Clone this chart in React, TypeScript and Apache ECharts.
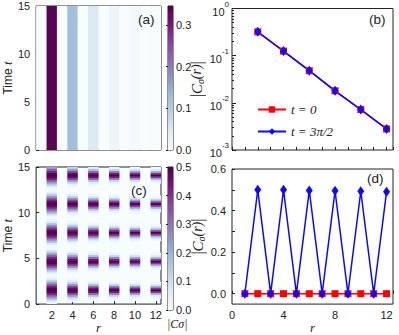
import React, { useEffect, useRef } from 'react';
import * as echarts from 'echarts';

// ---------- data ----------
const rAll = [1, 2, 3, 4, 5, 6, 7, 8, 9, 10, 11, 12];
const panelAValues = [0, 0.335, 0, 0.125, 0, 0.048, 0, 0.018, 0, 0.0072, 0, 0.0028];
const rEven = [2, 4, 6, 8, 10, 12];
const bT0 = [0.32, 0.125, 0.048, 0.018, 0.0072, 0.0028];
const bT3 = [0.32, 0.125, 0.048, 0.018, 0.0072, 0.0028];
const dT0 = [0, 0, 0, 0, 0, 0, 0, 0, 0, 0, 0, 0];
const dT3 = [0, 0.5, 0, 0.5, 0, 0.497, 0, 0.495, 0, 0.493, 0, 0.49];
const blobCentersT = [1.57, 4.71, 7.85, 11.0, 14.14];
const profileStep = 0.2;
// |C| read at offsets 0, 0.2, 0.4 ... from the centre of each blob, one row per even r
const blobProfiles = [
  [0.5, 0.48, 0.42, 0.34, 0.24, 0.15, 0.07, 0.02],
  [0.5, 0.46, 0.36, 0.24, 0.13, 0.05, 0.015, 0],
  [0.5, 0.44, 0.31, 0.17, 0.07, 0.02, 0, 0],
  [0.5, 0.42, 0.27, 0.12, 0.04, 0.01, 0, 0],
  [0.5, 0.4, 0.23, 0.09, 0.025, 0.005, 0, 0],
  [0.5, 0.38, 0.19, 0.065, 0.015, 0, 0, 0],
];
const heatXTicks = [2, 4, 6, 8, 10, 12];
const cbarATicks = [0, 0.1, 0.2, 0.3];
const cbarCTicks = [0, 0.1, 0.2, 0.3, 0.4, 0.5];
const logMinor = [0.002, 0.003, 0.004, 0.005, 0.006, 0.007, 0.008, 0.009, 0.02, 0.03, 0.04, 0.05, 0.06, 0.07, 0.08, 0.09, 0.2, 0.3, 0.4, 0.5, 0.6, 0.7, 0.8, 0.9];
const dXLabels = [0, 4, 8, 12];
const dYLabels = [0, 0.2, 0.4, 0.6];
const dYTicks = [0, 0.1, 0.2, 0.3, 0.4, 0.5, 0.6];
const cbarAMax = 0.345;
const cbarCMax = 0.5;
const BUPU = ['#f7fcfd', '#e0ecf4', '#bfd3e6', '#9ebcda', '#8c96c6', '#8c6bb1', '#88419d', '#810f7c', '#4d004b'];

const SANS = 'Liberation Sans, Arial, sans-serif';
const SERIF = 'Liberation Serif, Times New Roman, serif';
const INK = '#222';

export default function App() {
  const ref = useRef<HTMLDivElement>(null);
  useEffect(() => {
    document.body.style.margin = '0';
    const chart = echarts.init(ref.current!, undefined, { renderer: 'svg' });

    const aCells = rAll.map((r, i) => [r, 7.5, 15, panelAValues[i]]);
    const cCells: number[][] = [];
    rEven.forEach((r, j) => {
      const prof = blobProfiles[j];
      blobCentersT.forEach((c) => {
        for (let k = -(prof.length - 1); k <= prof.length - 1; k++) {
          const v = prof[Math.abs(k)];
          if (v > 0) cCells.push([r, c + k * profileStep, profileStep, v]);
        }
      });
    });

    const cellRender = (_p: any, api: any) => {
      const r = api.value(0), t = api.value(1), h = api.value(2);
      const p0 = api.coord([r - 0.5, t + h / 2]);
      const p1 = api.coord([r + 0.5, t - h / 2]);
      return {
        type: 'rect',
        shape: { x: p0[0], y: p0[1], width: p1[0] - p0[0], height: p1[1] - p0[1] + 0.6 },
        style: { fill: api.visual('color') },
      };
    };
    const cbarRender = (params: any) => {
      const cs = params.coordSys;
      return {
        type: 'rect',
        shape: { x: cs.x, y: cs.y, width: cs.width, height: cs.height },
        style: {
          fill: {
            type: 'linear', x: 0, y: 1, x2: 0, y2: 0,
            colorStops: BUPU.map((c, i) => ({ offset: i / (BUPU.length - 1), color: c })),
          },
        },
      };
    };

    const tick = (extra: any = {}) => ({ show: true, inside: true, length: 3, lineStyle: { color: INK, width: 1 }, ...extra });
    const lbl = (extra: any = {}) => ({ color: INK, fontSize: 11, fontFamily: SANS, ...extra });
    const gridBase = { show: true, borderColor: INK, borderWidth: 1, containLabel: false };
    const noSplit = { show: false };
    const timeName = {
      name: '{a|Time }{b|t}',
      nameLocation: 'middle',
      nameGap: 21,
      nameRotate: 90,
      nameTextStyle: {
        rich: {
          a: { fontFamily: SANS, fontSize: 12, color: INK },
          b: { fontFamily: SERIF, fontStyle: 'italic', fontSize: 13, color: INK },
        },
      },
    };
    const cName = {
      name: '{p||}{c|C}{s|σ}{q|(r)}{p||}',
      nameLocation: 'middle',
      nameGap: 22,
      nameRotate: 90,
      nameTextStyle: {
        rich: {
          p: { fontFamily: SERIF, fontSize: 16, color: INK, lineHeight: 18, verticalAlign: 'middle' },
          c: { fontFamily: SERIF, fontStyle: 'italic', fontSize: 15, color: INK, lineHeight: 18, verticalAlign: 'middle' },
          s: { fontFamily: SERIF, fontStyle: 'italic', fontSize: 10, color: INK, lineHeight: 12, verticalAlign: 'bottom' },
          q: { fontFamily: SERIF, fontStyle: 'italic', fontSize: 14, color: INK, lineHeight: 18, verticalAlign: 'middle' },
        },
      },
    };
    const rName = {
      name: 'r',
      nameLocation: 'middle',
      nameGap: 13,
      nameTextStyle: { fontFamily: SERIF, fontStyle: 'italic', fontSize: 13, color: INK },
    };

    const option: any = {
      animation: false,
      backgroundColor: '#fff',
      grid: [
        { ...gridBase, left: 33, top: 6, width: 128, height: 144, backgroundColor: '#f7fcfd' },
        { ...gridBase, left: 168, top: 6, width: 5, height: 144 },
        { ...gridBase, left: 232, top: 7, width: 161, height: 143 },
        { ...gridBase, left: 33, top: 167, width: 128, height: 143, backgroundColor: '#f7fcfd' },
        { ...gridBase, left: 168, top: 167, width: 5, height: 143 },
        { ...gridBase, left: 232, top: 169, width: 161, height: 142 },
      ],
      xAxis: [
        { gridIndex: 0, type: 'value', min: 0.5, max: 12.5, axisLine: { show: false }, axisTick: tick({ customValues: heatXTicks }), axisLabel: { show: false }, splitLine: noSplit },
        { gridIndex: 1, type: 'value', min: 0, max: 1, show: false },
        { gridIndex: 2, type: 'value', min: 0, max: 12.5, interval: 1, axisLine: { show: false }, axisTick: tick(), axisLabel: { show: false }, splitLine: noSplit },
        { gridIndex: 3, type: 'value', min: 0.5, max: 12.5, axisLine: { show: false }, axisTick: tick({ customValues: heatXTicks }), axisLabel: lbl({ customValues: heatXTicks, margin: 5 }), splitLine: noSplit, ...rName },
        { gridIndex: 4, type: 'value', min: 0, max: 1, show: false },
        { gridIndex: 5, type: 'value', min: 0, max: 12.5, interval: 2, axisLine: { show: false }, axisTick: tick(), axisLabel: lbl({ customValues: dXLabels, margin: 5 }), splitLine: noSplit, ...rName },
      ],
      yAxis: [
        { gridIndex: 0, type: 'value', min: 0, max: 15, interval: 5, axisLine: { show: false }, axisTick: tick(), axisLabel: lbl({ margin: 6 }), splitLine: noSplit, ...timeName },
        { gridIndex: 1, type: 'value', min: 0, max: cbarAMax, position: 'right', axisLine: { show: false }, axisTick: tick({ length: 2, customValues: cbarATicks }), axisLabel: lbl({ customValues: cbarATicks, margin: 3, formatter: (v: number) => v.toFixed(1) }), splitLine: noSplit },
        {
          gridIndex: 2, type: 'log', logBase: 10, min: 0.001, max: 1, axisLine: { show: false }, axisTick: tick({ length: 4 }), splitLine: noSplit,
          axisLabel: lbl({
            margin: 3,
            formatter: (v: number) => `{b|10}{s|${Math.round(Math.log10(v))}}`,
            rich: {
              b: { fontFamily: SANS, fontSize: 11, color: INK, lineHeight: 17, verticalAlign: 'bottom' },
              s: { fontFamily: SANS, fontSize: 8, color: INK, lineHeight: 10, verticalAlign: 'top' },
            },
          }),
          ...cName,
        },
        { gridIndex: 2, type: 'log', logBase: 10, min: 0.001, max: 1, position: 'left', axisLine: { show: false }, axisTick: tick({ length: 2, customValues: logMinor }), axisLabel: { show: false }, splitLine: noSplit },
        { gridIndex: 3, type: 'value', min: 0, max: 15, interval: 5, axisLine: { show: false }, axisTick: tick(), axisLabel: lbl({ margin: 6 }), splitLine: noSplit, ...timeName },
        { gridIndex: 4, type: 'value', min: 0, max: cbarCMax, position: 'right', axisLine: { show: false }, axisTick: tick({ length: 2, customValues: cbarCTicks }), axisLabel: lbl({ customValues: cbarCTicks, margin: 3, formatter: (v: number) => v.toFixed(1) }), splitLine: noSplit },
        { gridIndex: 5, type: 'value', min: -0.05, max: 0.6, axisLine: { show: false }, axisTick: tick({ customValues: dYTicks }), axisLabel: lbl({ customValues: dYLabels, margin: 6, formatter: (v: number) => v.toFixed(1) }), splitLine: noSplit, ...cName },
      ],
      visualMap: [
        { type: 'continuous', show: false, seriesIndex: 0, dimension: 3, min: 0, max: cbarAMax, inRange: { color: BUPU } },
        { type: 'continuous', show: false, seriesIndex: 4, dimension: 3, min: 0, max: cbarCMax, inRange: { color: BUPU } },
      ],
      legend: {
        data: ['t = 0', 't = 3π/2'],
        left: 252, top: 98, orient: 'vertical', itemWidth: 28, itemHeight: 8, itemGap: 9,
        textStyle: { fontFamily: SERIF, fontStyle: 'italic', fontSize: 13, color: INK },
      },
      series: [
        { type: 'custom', xAxisIndex: 0, yAxisIndex: 0, renderItem: cellRender, data: aCells, clip: true },
        { type: 'custom', xAxisIndex: 1, yAxisIndex: 1, renderItem: cbarRender, data: [[0.5, 0]] },
        { type: 'line', name: 't = 0', xAxisIndex: 2, yAxisIndex: 2, data: rEven.map((r, i) => [r, bT0[i]]), color: '#ff0000', symbol: 'rect', symbolSize: 7, lineStyle: { width: 1.5 } },
        { type: 'line', name: 't = 3π/2', xAxisIndex: 2, yAxisIndex: 2, data: rEven.map((r, i) => [r, bT3[i]]), color: '#0a0aff', symbol: 'diamond', symbolSize: [7, 10], lineStyle: { width: 1.5 } },
        { type: 'custom', xAxisIndex: 3, yAxisIndex: 4, renderItem: cellRender, data: cCells, clip: true },
        { type: 'custom', xAxisIndex: 4, yAxisIndex: 5, renderItem: cbarRender, data: [[0.5, 0]] },
        { type: 'line', name: 't = 0', xAxisIndex: 5, yAxisIndex: 6, data: rAll.map((r, i) => [r, dT0[i]]), color: '#ff0000', symbol: 'rect', symbolSize: 7, lineStyle: { width: 1.5 } },
        { type: 'line', name: 't = 3π/2', xAxisIndex: 5, yAxisIndex: 6, data: rAll.map((r, i) => [r, dT3[i]]), color: '#0a0aff', symbol: 'diamond', symbolSize: [7, 10], lineStyle: { width: 1.5 } },
      ],
      graphic: [
        { type: 'text', z: 100, left: 138, top: 12, style: { text: '(a)', font: `13.5px ${SANS}`, fill: INK } },
        { type: 'text', z: 100, left: 369, top: 12, style: { text: '(b)', font: `13.5px ${SANS}`, fill: INK } },
        { type: 'text', z: 100, left: 131, top: 183, style: { text: '(c)', font: `13.5px ${SANS}`, fill: INK } },
        { type: 'text', z: 100, left: 367, top: 171, style: { text: '(d)', font: `13.5px ${SANS}`, fill: INK } },
        { type: 'text', z: 100, left: 167, top: 318, style: { text: '|Cσ|', font: `italic 12px ${SERIF}`, fill: INK } },
      ],
    };
    chart.setOption(option);
    return () => chart.dispose();
  }, []);
  return <div ref={ref} style={{ width: 399, height: 335 }} />;
}
